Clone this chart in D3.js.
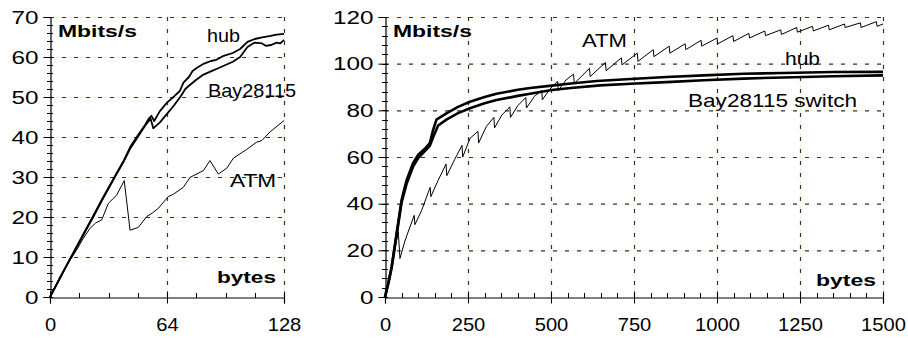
<!DOCTYPE html>
<html>
<head>
<meta charset="utf-8">
<script src="https://cdn.jsdelivr.net/npm/d3@7"></script>
<style>
  body { margin: 0; background: #fff; }
  svg { display: block; }
  text { font-family: "Liberation Sans", Arial, sans-serif; fill: #000; }
</style>
</head>
<body>
<svg id="chart" width="908" height="341"></svg>
<script>
// left panel: small packets (0..128 bytes)
const leftXTicks = [0, 64, 128];
const leftYTicks = [0, 10, 20, 30, 40, 50, 60, 70];

const leftHub = [[0,0],[4,3.5],[8,7],[12,10.4],[16,13.8],[20,17.2],[24,20.6],[28,24],[32,27.3],[36,30.6],[40,33.8],[44,37.6],[48,40.4],[52,43],[54,44.6],[55.5,45.3],[57,44],[60,46.4],[64,48.6],[68,50.2],[71,51.5],[73,53.6],[76,55],[78,56.5],[80,57.2],[84,58.3],[88,59],[91,59.3],[95,60.3],[100,61],[104,62],[108,63.8],[112,64.5],[116,64.9],[120,65.2],[124,65.6],[128,65.8]];
const leftBay = [[0,0],[4,3.4],[8,6.9],[12,10.3],[16,13.6],[20,17],[24,20.3],[28,23.8],[32,27.1],[36,30.4],[40,33.6],[44,37.2],[48,40],[52,42.8],[55,44.6],[56.5,42.2],[60,43.6],[64,45.8],[68,48],[72,50.5],[74,52],[76,52.8],[80,54.3],[84,55.6],[88,56.4],[92,57.2],[96,58],[100,58.8],[104,60],[108,62.5],[112,63.6],[116,63.4],[118,62.8],[121,63],[124,63.6],[126,63.4],[128,64.3]];
const leftAtm = [[0,0],[5.5,5.1],[10,8.5],[14.6,11.8],[18,14.5],[21.9,17.2],[25,18.5],[28.3,19.3],[31.9,23.4],[36.5,25.5],[40.6,29.1],[43.8,16.7],[48.3,17.4],[52.9,20.1],[56,21],[59.3,22.2],[64.7,25.1],[67.5,25.7],[72.9,27.4],[76.6,29.9],[83.9,31.6],[87.5,34.1],[92.1,30.75],[96.7,32.2],[100.3,34.7],[107.6,36.9],[113,38.7],[115.8,39.1],[120.4,41.3],[128,44.1]];

// right panel: full range (0..1500 bytes)
const rightXTicks = [0, 250, 500, 750, 1000, 1250, 1500];
const rightYTicks = [0, 20, 40, 60, 80, 100, 120];

const rightHub = [[0,0],[10,6],[20,13],[35,27.3],[50,41.6],[65,50],[85,57.5],[100,61],[120,63.5],[135,66],[145,71.6],[155,76],[185,78.7],[220,81.5],[256,83.7],[300,85.7],[336,87.1],[400,88.8],[437,89.6],[502,90.6],[560,91.5],[638,92.6],[740,93.4],[848,94.3],[960,95],[1079,95.7],[1200,96],[1350,96.4],[1500,96.5]];
const rightBay = [[0,0],[10,5.8],[20,12.5],[35,26.6],[50,40.5],[65,48.5],[85,56],[100,59.5],[120,62.5],[135,64.8],[145,68.5],[160,73.5],[185,76],[220,78.8],[256,80.9],[300,83],[336,84.4],[400,86.2],[437,87.1],[502,88.7],[560,89.6],[648,90.7],[740,91.4],[848,92.1],[960,92.9],[1079,93.6],[1200,94.1],[1350,94.6],[1500,95]];
const rightAtm = [[0,0],[10,6],[20,13],[30,21],[40,28],[45,16.5],[60,24],[75,30],[88,35],[90,31],[110,37],[136,47],[138,43],[160,50],[184,57],[186,52],[210,59],[232,65],[234,60],[256,68],[280,71],[282,66],[305,73],[328,77],[330,72.5],[352,78],[376,81.5],[378,77],[400,82],[424,85.5],[426,81],[450,86],[472,88.5],[474,84.5],[496,89],[520,92.5],[522,88.5],[545,93],[568,95.5],[570,91.5],[616,98],[618,94.5],[664,100.5],[666,97],[712,102.5],[714,99.5],[760,104.5],[762,101],[808,106],[810,103],[856,107.5],[858,104.5],[904,108.5],[906,106],[952,110],[954,107.5],[1000,111],[1002,108.5],[1048,112],[1050,109.5],[1096,113],[1098,111],[1144,114],[1146,112],[1192,114.5],[1194,112.5],[1240,115.5],[1242,113.5],[1288,116],[1290,114],[1336,116.5],[1338,114.5],[1384,117],[1386,115.5],[1432,117.5],[1434,115.5],[1480,118],[1482,116],[1500,117]];

let svg = d3.select('#chart');

svg.append('rect')
	.attr('width', 908)
	.attr('height', 341)
	.attr('fill', '#fff');

function drawPanel(p) {
	let x = d3.scaleLinear().domain(p.xDomain).range([p.left, p.right]);
	let y = d3.scaleLinear().domain(p.yDomain).range([p.bottom, p.top]);
	let g = svg.append('g');

	// grid: pale line under black dashes
	let grid = g.append('g');
	p.yTicks.filter(d => d > 0).forEach(d => {
		grid.append('line')
			.attr('x1', p.left).attr('x2', p.right)
			.attr('y1', y(d) + 0.5).attr('y2', y(d) + 0.5)
			.attr('stroke', '#f4f4dc').attr('stroke-width', 1);
		grid.append('line')
			.attr('x1', p.left).attr('x2', p.right)
			.attr('y1', y(d) + 0.5).attr('y2', y(d) + 0.5)
			.attr('stroke', '#333').attr('stroke-width', 1.2)
			.attr('stroke-dasharray', '4,8');
	});
	p.xTicks.filter(d => d > 0).forEach(d => {
		grid.append('line')
			.attr('x1', x(d) + 0.5).attr('x2', x(d) + 0.5)
			.attr('y1', p.top).attr('y2', p.bottom)
			.attr('stroke', '#f4f4dc').attr('stroke-width', 1);
		grid.append('line')
			.attr('x1', x(d) + 0.5).attr('x2', x(d) + 0.5)
			.attr('y1', p.top).attr('y2', p.bottom)
			.attr('stroke', '#333').attr('stroke-width', 1.2)
			.attr('stroke-dasharray', '4,8');
	});

	// lines
	let line = d3.line()
		.x(d => x(d[0]))
		.y(d => y(d[1]));

	p.series.forEach(s => {
		g.append('path')
			.attr('fill', 'none')
			.attr('stroke', '#000')
			.attr('stroke-width', s.width)
			.attr('stroke-linejoin', 'round')
			.attr('d', line(s.data));
	});

	// minor ticks
	let minor = g.append('g').attr('stroke', '#000').attr('stroke-width', 1);
	d3.range(p.yDomain[0], p.yDomain[1], p.yMinor).forEach(d => {
		minor.append('line')
			.attr('x1', p.left - 3).attr('x2', p.left + 3)
			.attr('y1', Math.round(y(d)) + 0.5).attr('y2', Math.round(y(d)) + 0.5);
	});
	d3.range(p.xDomain[0], p.xDomain[1], p.xMinor).forEach(d => {
		minor.append('line')
			.attr('x1', Math.round(x(d)) + 0.5).attr('x2', Math.round(x(d)) + 0.5)
			.attr('y1', p.bottom - 4).attr('y2', p.bottom + 1);
	});

	// y axis
	let ya = g.append('g')
		.attr('transform', `translate(${p.left + 0.5},0)`)
		.call(d3.axisLeft(y).tickValues(p.yTicks).tickFormat(d3.format('d')).tickSize(7).tickPadding(5));
	ya.select('.domain').attr('stroke-width', 1.2);
	ya.selectAll('text')
		.attr('font-size', p.tickFont)
		.attr('textLength', d => String(d).length * 13.5)
		.attr('lengthAdjust', 'spacingAndGlyphs')
		.style('font-family', '"Liberation Sans", Arial, sans-serif');

	// x axis
	let xa = g.append('g')
		.attr('transform', `translate(0,${p.bottom + 0.5})`)
		.call(d3.axisBottom(x).tickValues(p.xTicks).tickFormat(d3.format('d')).tickSize(6).tickPadding(14));
	xa.select('.domain').attr('stroke-width', 1.2);
	xa.selectAll('.tick line').attr('y1', -6);
	xa.selectAll('text')
		.attr('font-size', p.tickFont)
		.attr('textLength', d => String(d).length * 11.2)
		.attr('lengthAdjust', 'spacingAndGlyphs')
		.style('font-family', '"Liberation Sans", Arial, sans-serif');

	// labels
	p.labels.forEach(l => {
		g.append('text')
			.attr('x', l.x)
			.attr('y', l.y)
			.attr('font-size', l.size)
			.attr('font-weight', l.bold ? 'bold' : 'normal')
			.attr('textLength', l.len)
			.attr('lengthAdjust', 'spacingAndGlyphs')
			.text(l.text);
	});
}

drawPanel({
	xDomain: [0, 128], yDomain: [0, 70],
	left: 50, right: 284, top: 17, bottom: 297,
	xTicks: leftXTicks, yTicks: leftYTicks,
	xMinor: 16, yMinor: 2, tickFont: 19,
	series: [
		{ data: leftAtm, width: 1 },
		{ data: leftBay, width: 1.8 },
		{ data: leftHub, width: 1.8 }
	],
	labels: [
		{ text: 'Mbits/s', x: 58, y: 37, size: 17, bold: true, len: 79 },
		{ text: 'hub', x: 207, y: 42, size: 19, len: 33 },
		{ text: 'Bay28115', x: 208, y: 97, size: 19, len: 88 },
		{ text: 'ATM', x: 230, y: 187, size: 19, len: 46 },
		{ text: 'bytes', x: 217, y: 283, size: 17, bold: true, len: 59 }
	]
});

drawPanel({
	xDomain: [0, 1500], yDomain: [0, 120],
	left: 385, right: 883, top: 17, bottom: 297,
	xTicks: rightXTicks, yTicks: rightYTicks,
	xMinor: 50, yMinor: 4, tickFont: 19,
	series: [
		{ data: rightAtm, width: 1 },
		{ data: rightBay, width: 2.6 },
		{ data: rightHub, width: 2.6 }
	],
	labels: [
		{ text: 'Mbits/s', x: 393, y: 37, size: 17, bold: true, len: 79 },
		{ text: 'ATM', x: 582, y: 47, size: 19, len: 45 },
		{ text: 'hub', x: 785, y: 65, size: 19, len: 35 },
		{ text: 'Bay28115 switch', x: 688, y: 107, size: 19, len: 169 },
		{ text: 'bytes', x: 816, y: 286, size: 17, bold: true, len: 60 }
	]
});
</script>
</body>
</html>
